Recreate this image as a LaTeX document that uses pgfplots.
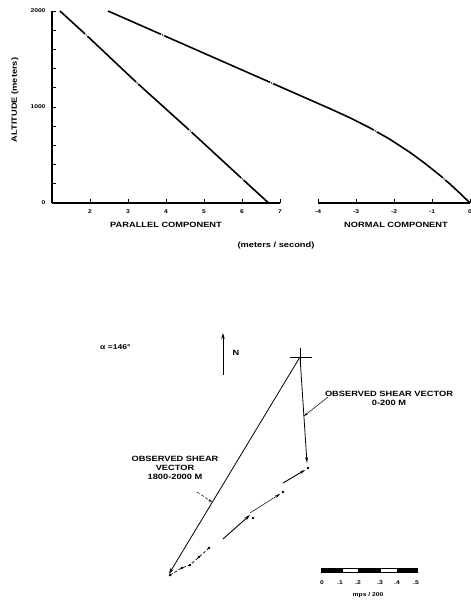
\documentclass[border=0pt]{standalone}
\usepackage{fontspec}
\setmainfont{Liberation Sans}[FakeStretch=1.22]
\usepackage{pgfplots}
\pgfplotsset{compat=1.18}
\usetikzlibrary{arrows.meta}

\newcommand{\lab}{\fontsize{7.6}{8}\selectfont\bfseries}
\newcommand{\tlab}{\fontsize{5.5}{6}\selectfont\bfseries}

\begin{document}
\begin{tikzpicture}
\useasboundingbox (0pt,0pt) rectangle (471pt,603pt);

% ---------- Parallel component ----------
\begin{axis}[at={(52pt,400pt)}, anchor=south west, scale only axis,
  width=228pt, height=192pt,
  xmin=1, xmax=7, ymin=0, ymax=2000,
  axis x line=bottom, axis y line=left,
  axis line style={-, line width=1.1pt},
  xtick={2,3,4,5,6,7}, xticklabels={2,3,4,5,6,7},
  ytick={0,200,...,2000}, yticklabels={0,,,,,1000,,,,,2000},
  tick align=inside, major tick length=4pt,
  tick style={line width=0.9pt, black},
  tick label style={font=\tlab},
  xticklabel style={yshift=-3.5pt},
  yticklabel style={xshift=-3pt},
  clip=false]
\addplot[line width=1.6pt] coordinates {(1.21,2000)(1.90,1750)(3.24,1250)(4.64,750)(6.01,250)(6.70,0)};
\addplot[only marks, mark=*, mark size=1.5pt, mark options={fill=black, draw=white, line width=0.8pt}]
  coordinates {(1.90,1750)(3.24,1250)(4.64,750)(6.01,250)};
\end{axis}

% ---------- Normal component ----------
\begin{axis}[at={(318pt,400pt)}, anchor=south west, scale only axis,
  width=152pt, height=192pt,
  xmin=-4, xmax=0, ymin=0, ymax=2000,
  axis x line=bottom, axis y line=none,
  axis line style={-, line width=1.1pt},
  xtick={-4,-3,-2,-1,0}, xticklabels={-4,-3,-2,-1,0},
  ytick=\empty,
  tick align=inside, major tick length=4pt,
  tick style={line width=0.9pt, black},
  tick label style={font=\tlab},
  xticklabel style={yshift=-3.5pt},
  clip=false]
\addplot[line width=1.6pt, line join=round] coordinates {
  (-9.526,2000)(-8.947,1899.2)(-8.421,1807.5)(-7.895,1715.8)(-7.368,1624.2)
  (-6.842,1532.5)(-6.316,1440.8)(-5.789,1349.2)(-5.263,1257.5)(-4.737,1165.8)
  (-4.211,1074.2)(-3.684,982.5)(-3.158,887.6)(-2.632,782.3)(-2.105,663.0)
  (-1.579,527.1)(-1.184,412.5)(-0.789,287.5)(-0.526,196.9)(-0.263,101.0)(0,0)};
\addplot[only marks, mark=*, mark size=1.5pt, mark options={fill=black, draw=white, line width=0.8pt}]
  coordinates {(-8.09,1750)(-5.22,1250)(-2.49,750)(-0.68,250)};
\end{axis}

% ---------- Hodograph (units: mps/200, origin at the cross) ----------
\begin{axis}[at={(0pt,0pt)}, anchor=south west, scale only axis,
  width=471pt, height=603pt,
  xmin=-1.59574, xmax=0.909574, ymin=-1.308511, ymax=1.898936,
  hide axis, clip=false]
% cross
\addplot[line width=0.9pt] coordinates {(-0.0532,0)(0.0638,0)};
\addplot[line width=0.9pt] coordinates {(0,0.0479)(0,-0.0479)};
% observed shear vector 1800-2000 m
\addplot[line width=0.8pt, -{Stealth[length=6pt,width=3.5pt]}] coordinates {(0,0)(-0.697,-1.154)};
% observed shear vector 0-200 m
\addplot[line width=0.8pt, -{Stealth[length=6pt,width=3pt]}] coordinates {(0,0)(0.0372,-0.5638)};
% computed hodograph segments
\addplot[line width=0.9pt, -{Stealth[length=5pt,width=3pt]}] coordinates {(-0.0904,-0.6702)(0.0266,-0.6011)};
\addplot[line width=0.5pt, -{Stealth[length=5pt,width=3pt]}] coordinates {(-0.266,-0.8298)(-0.1064,-0.7287)};
\addplot[line width=0.9pt, -{Stealth[length=6pt,width=3.5pt]}] coordinates {(-0.4096,-0.9681)(-0.266,-0.8404)};
\addplot[line width=0.7pt, densely dashed] coordinates {(-0.691,-1.160)(-0.628,-1.122)(-0.585,-1.106)(-0.537,-1.064)(-0.484,-1.016)};
\addplot[only marks, mark=*, mark size=1.1pt] coordinates {
  (0.0426,-0.5904)(-0.0904,-0.7181)(-0.25,-0.8564)
  (-0.484,-1.016)(-0.537,-1.064)(-0.585,-1.106)(-0.628,-1.122)(-0.691,-1.160)};
% leaders
\addplot[line width=0.5pt, -{Stealth[length=4pt,width=2.5pt]}] coordinates {(0.1489,-0.2128)(0.0213,-0.3138)};
\addplot[line width=0.5pt, densely dashed, -{Stealth[length=4pt,width=2.5pt]}] coordinates {(-0.5479,-0.7181)(-0.4681,-0.7713)};
% north arrow
\addplot[line width=0.8pt, -{Stealth[length=6pt,width=3.5pt]}] coordinates {(-0.4096,-0.0957)(-0.4096,0.1277)};
% scale bar
\addplot[fill=black, draw=black, line width=0.4pt] coordinates {(0.1117,-1.1223)(0.2234,-1.1223)(0.2234,-1.1436)(0.1117,-1.1436)} --cycle;
\addplot[fill=white, draw=black, line width=0.4pt] coordinates {(0.2234,-1.1223)(0.3085,-1.1223)(0.3085,-1.1436)(0.2234,-1.1436)} --cycle;
\addplot[fill=black, draw=black, line width=0.4pt] coordinates {(0.3085,-1.1223)(0.4255,-1.1223)(0.4255,-1.1436)(0.3085,-1.1436)} --cycle;
\addplot[fill=white, draw=black, line width=0.4pt] coordinates {(0.4255,-1.1223)(0.5160,-1.1223)(0.5160,-1.1436)(0.4255,-1.1436)} --cycle;
\addplot[fill=black, draw=black, line width=0.4pt] coordinates {(0.5160,-1.1223)(0.6223,-1.1223)(0.6223,-1.1436)(0.5160,-1.1436)} --cycle;
\end{axis}

% ---------- text ----------
\node[font=\lab] at (166pt,378pt) {PARALLEL COMPONENT};
\node[font=\lab] at (396pt,378pt) {NORMAL COMPONENT};
\node[font=\lab] at (276pt,357pt) {(meters / second)};
\node[font=\lab, rotate=90] at (15pt,503pt) {ALTITUDE (meters)};

\node[font=\fontsize{7}{8}\selectfont\bfseries, anchor=west, inner sep=0pt] at (100pt,256pt) {α =146°};
\node[font=\lab] at (236pt,250pt) {N};
\node[font=\lab, align=center, inner sep=0pt] at (389pt,205pt) {OBSERVED SHEAR VECTOR\\[1pt]0-200 M};
\node[font=\lab, align=center, inner sep=0pt] at (175pt,135pt) {OBSERVED SHEAR\\[1pt]VECTOR\\[1pt]1800-2000 M};

\foreach \xx/\tt in {322/0,340/.1,358/.2,380/.3,397/.4,416/.5}
  \node[font=\tlab] at (\xx pt,20pt) {\tt};
\node[font=\tlab] at (368pt,8pt) {mps / 200};
\end{tikzpicture}
\end{document}
